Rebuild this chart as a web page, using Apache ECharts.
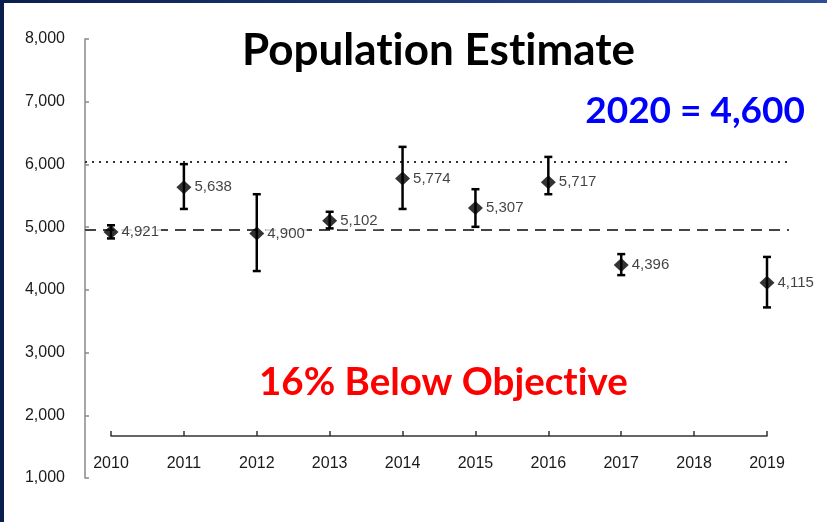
<!DOCTYPE html>
<html>
<head>
<meta charset="utf-8">
<script src="https://cdn.jsdelivr.net/npm/echarts@6/dist/echarts.min.js"></script>
<style>
  html, body { margin: 0; padding: 0; background: #fff; }
  #chart { width: 827px; height: 522px; }
  .edge-left { position: absolute; left: 0; top: 0; width: 4px; height: 522px; background: #0b1f4f; }
  .edge-top { position: absolute; left: 0; top: 0; width: 827px; height: 3px; background: linear-gradient(90deg, #0b1f4f, #2f4f95); }
</style>
</head>
<body>
<div id="chart"></div>
<div class="edge-left"></div>
<div class="edge-top"></div>
<script>
// data
const years = ['2010', '2011', '2012', '2013', '2014', '2015', '2016', '2017', '2018', '2019'];
const estimates = [4921, 5638, 4900, 5102, 5774, 5307, 5717, 4396, null, 4115];
const lowerBounds = [4820, 5290, 4300, 4980, 5290, 5005, 5525, 4235, null, 3720];
const upperBounds = [5030, 6005, 5525, 5245, 6280, 5605, 6120, 4570, null, 4525];
const upperObjective = 6050;
const lowerObjective = 4960;
const yMin = 1000, yMax = 8000, yStep = 1000;

const fmt = v => Number(v).toLocaleString('en-US');
const axisFont = 'Liberation Sans, Arial, sans-serif';
const headFont = 'Lato, "Open Sans", sans-serif';
// \u200C keeps Lato from joining "ti" into a ligature
const noLig = s => s.replace(/ti/g, 't\u200Ci');

let errorData = [];
years.forEach(function (y, i) {
    if (estimates[i] != null) errorData.push([i, lowerBounds[i], upperBounds[i]]);
});

let chart = echarts.init(document.getElementById('chart'));

let option = {
    animation: false,
    grid: [
        { left: 85, right: 38, top: 39, bottom: 44 },
        { left: 111, right: 60, top: 39, bottom: 44 }
    ],
    xAxis: [
        { gridIndex: 0, type: 'value', min: 0, max: 1, show: false },
        {
            gridIndex: 1,
            type: 'category',
            data: years,
            boundaryGap: false,
            offset: -42,
            axisLine: { lineStyle: { color: '#333', width: 1.5 } },
            axisTick: { inside: true, length: 5, lineStyle: { color: '#333', width: 1.5 } },
            axisLabel: { margin: 20, fontSize: 16, color: '#1a1a1a', fontFamily: axisFont }
        }
    ],
    yAxis: [
        {
            gridIndex: 0,
            type: 'value',
            min: yMin, max: yMax, interval: yStep,
            axisLine: { show: true, lineStyle: { color: '#888', width: 1.5 } },
            axisTick: { show: true, inside: true, length: 4, lineStyle: { color: '#888', width: 1.5 } },
            splitLine: { show: false },
            axisLabel: { margin: 20, fontSize: 16, color: '#1a1a1a', fontFamily: axisFont, formatter: fmt }
        },
        { gridIndex: 1, type: 'value', min: yMin, max: yMax, show: false }
    ],
    graphic: [
        {
            type: 'text', left: 242, top: 29, z: 100,
            style: { text: noLig('Population Estimate'), fill: '#000', font: 'bold 44px ' + headFont }
        },
        {
            type: 'text', right: 22, top: 93, z: 100,
            style: { text: '2020 = 4,600', fill: '#0000ff', font: 'bold 37px ' + headFont }
        },
        {
            type: 'text', left: 259, top: 363, z: 100,
            style: { text: noLig('16% Below Objective'), fill: '#ff0000', font: 'bold 38.5px ' + headFont }
        }
    ],
    series: [
        {
            // objective lines across the full plot
            type: 'line',
            xAxisIndex: 0,
            yAxisIndex: 0,
            z: 1,
            data: [],
            markLine: {
                silent: true,
                z: 1,
                symbol: 'none',
                label: { show: false },
                data: [
                    { yAxis: upperObjective, lineStyle: { color: '#333', width: 2, type: [2, 5] } },
                    { yAxis: lowerObjective, lineStyle: { color: '#444', width: 2, type: [11, 7] } }
                ]
            }
        },
        {
            type: 'custom',
            xAxisIndex: 1,
            yAxisIndex: 1,
            z: 3,
            data: errorData,
            renderItem: function (params, api) {
                let lo = api.coord([api.value(0), api.value(1)]);
                let hi = api.coord([api.value(0), api.value(2)]);
                let cap = 4;
                let st = { stroke: '#000', lineWidth: 2.5 };
                return {
                    type: 'group',
                    children: [
                        { type: 'line', shape: { x1: lo[0], y1: lo[1], x2: hi[0], y2: hi[1] }, style: st },
                        { type: 'line', shape: { x1: lo[0] - cap, y1: lo[1], x2: lo[0] + cap, y2: lo[1] }, style: st },
                        { type: 'line', shape: { x1: hi[0] - cap, y1: hi[1], x2: hi[0] + cap, y2: hi[1] }, style: st }
                    ]
                };
            }
        },
        {
            type: 'scatter',
            xAxisIndex: 1,
            yAxisIndex: 1,
            z: 4,
            symbol: 'diamond',
            symbolSize: [15, 14],
            itemStyle: { color: '#000' },
            label: {
                show: true,
                position: 'right',
                distance: 1,
                fontSize: 15,
                color: '#111',
                fontFamily: axisFont,
                backgroundColor: '#fff',
                padding: [1, 2],
                formatter: p => fmt(p.value)
            },
            data: estimates
        }
    ]
};

chart.setOption(option);
</script>
</body>
</html>
